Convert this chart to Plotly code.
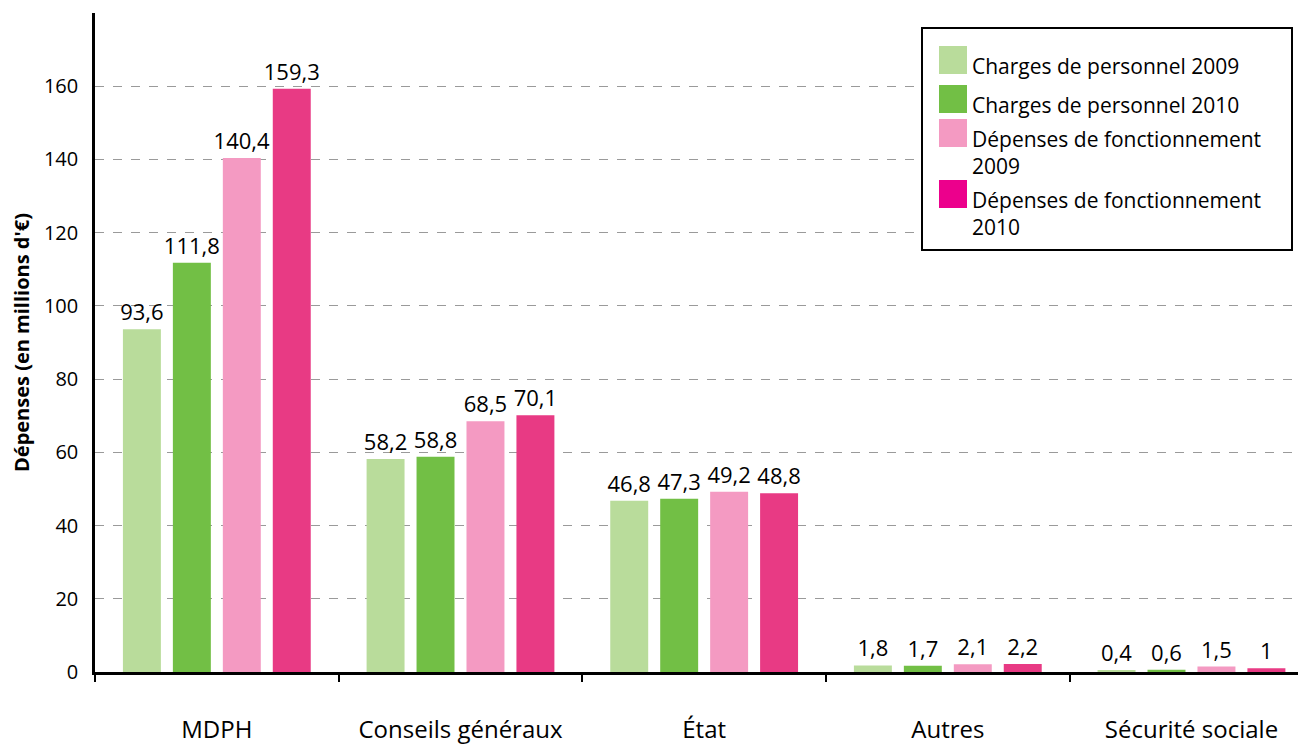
import plotly.graph_objects as go

# financeurs
categories = ["MDPH", "Conseils généraux", "État", "Autres", "Sécurité sociale"]

series_names = [
    "Charges de personnel 2009",
    "Charges de personnel 2010",
    "Dépenses de fonctionnement<br>2009",
    "Dépenses de fonctionnement<br>2010",
]

charges_2009 = [93.6, 58.2, 46.8, 1.8, 0.4]
charges_2010 = [111.8, 58.8, 47.3, 1.7, 0.6]
fonct_2009 = [140.4, 68.5, 49.2, 2.1, 1.5]
fonct_2010 = [159.3, 70.1, 48.8, 2.2, 1.0]

y_ticks = [0, 20, 40, 60, 80, 100, 120, 140, 160]

bar_colors = ["#b9dc9b", "#72bf45", "#f49ac2", "#e83a84"]
legend_colors = ["#b9dc9b", "#72bf45", "#f49ac2", "#ec008c"]

FONT = "Open Sans"


def fr(v):
    # virgule décimale à la française
    return f"{v:g}".replace(".", ",")


fig = go.Figure()

for name, vals, col in zip(series_names, [charges_2009, charges_2010, fonct_2009, fonct_2010], bar_colors):
    fig.add_trace(go.Bar(
        x=categories,
        y=vals,
        name=name,
        marker=dict(color=col, line=dict(width=0)),
        text=[fr(v) for v in vals],
        textposition="outside",
        constraintext="none",
        textfont=dict(family=FONT, size=22, color="black"),
        cliponaxis=False,
        showlegend=False,
    ))

# the page body has an 8px margin, so the figure is drawn 8px in and down
OFF = 8
# plot area as seen on the page, in pixels
L, R, T, B = 95, 1306, 13, 672


def px_x(p):
    return (p - L) / (R - L)


def px_y(p):
    return (B - p) / (B - T)


shapes = [dict(
    type="rect", xref="paper", yref="paper",
    x0=px_x(922), x1=px_x(1292), y0=px_y(250), y1=px_y(28),
    line=dict(color="black", width=2), fillcolor="white", layer="above",
)]
annotations = []
rows_top = [46, 85, 119, 180]
for name, col, top in zip(series_names, legend_colors, rows_top):
    shapes.append(dict(
        type="rect", xref="paper", yref="paper",
        x0=px_x(939), x1=px_x(967), y0=px_y(top + 28), y1=px_y(top),
        line=dict(width=0), fillcolor=col, layer="above",
    ))
    annotations.append(dict(
        xref="paper", yref="paper", x=px_x(970), y=px_y(top + 4),
        xanchor="left", yanchor="top", align="left", showarrow=False,
        text=name, font=dict(family=FONT, size=21, color="black"),
    ))

fig.update_layout(
    width=1306 - OFF,
    height=744 - OFF,
    margin=dict(l=L - OFF, r=0, t=T - OFF, b=744 - B),
    plot_bgcolor="white",
    paper_bgcolor="white",
    barmode="group",
    bargap=0.18,
    bargroupgap=0.24,
    font=dict(family=FONT, color="black"),
    shapes=shapes,
    annotations=annotations,
)

# last category runs a little past the right edge, as in the original
fig.update_xaxes(
    range=[-0.5, 4.47],
    automargin=False,
    showline=True, linecolor="black", linewidth=2.5,
    ticks="outside", tickson="boundaries", ticklen=7, tickwidth=2, tickcolor="black",
    showgrid=False,
    tickfont=dict(family=FONT, size=24, color="black"),
    ticklabelstandoff=34,
)

fig.update_yaxes(
    range=[0, 180],
    automargin=False,
    tickvals=y_ticks,
    showline=True, linecolor="black", linewidth=2.5,
    showgrid=True, gridcolor="#9a9a9a", griddash="dash", gridwidth=1,
    zeroline=False,
    tickfont=dict(family=FONT, size=20, color="black"),
    ticklabelstandoff=10,
    title=dict(text="<b>Dépenses (en millions d'€)</b>", standoff=12,
               font=dict(family=FONT, size=20, color="black")),
)

fig.write_html("out.html")
